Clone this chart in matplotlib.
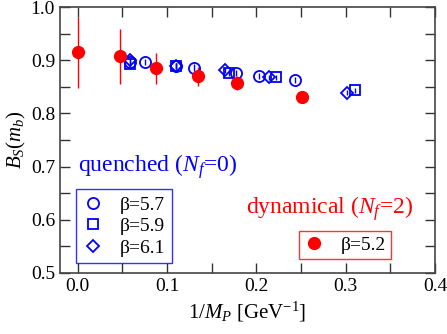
import matplotlib.pyplot as plt
from matplotlib.lines import Line2D
import numpy as np

plt.rcParams['font.family'] = ['Liberation Serif', 'DejaVu Serif']
plt.rcParams['mathtext.fontset'] = 'custom'
plt.rcParams['mathtext.rm'] = 'Liberation Serif'
plt.rcParams['mathtext.it'] = 'Liberation Serif:italic'

# dynamical, beta = 5.2
dyn_x = [0.0, 0.047, 0.0876, 0.1346, 0.1786, 0.251]
dyn_y = [0.915, 0.907, 0.885, 0.870, 0.857, 0.830]
dyn_err = [0.067, 0.051, 0.029, 0.018, 0.013, 0.005]

# quenched
q57_x = [0.059, 0.075, 0.110, 0.130, 0.1775, 0.2025, 0.2435]
q57_y = [0.897, 0.897, 0.889, 0.886, 0.876, 0.870, 0.863]
q57_err = [0.006, 0.006, 0.006, 0.006, 0.006, 0.006, 0.006]

q59_x = [0.059, 0.110, 0.169, 0.222, 0.311]
q59_y = [0.892, 0.889, 0.876, 0.868, 0.843]
q59_err = [0.005, 0.005, 0.005, 0.005, 0.005]

q61_x = [0.059, 0.110, 0.165, 0.214, 0.301]
q61_y = [0.900, 0.889, 0.881, 0.868, 0.839]
q61_err = [0.005, 0.005, 0.005, 0.005, 0.005]

fig = plt.figure(figsize=(4.47, 3.34), dpi=100)
ax = fig.add_axes([0.134, 0.183, 0.839, 0.796])

blue = '#0000ff'
red = '#ff0000'

kw = dict(linestyle='none', markerfacecolor='none', markeredgewidth=1.3,
          ecolor=blue, elinewidth=1.0, capsize=0, color=blue)
ax.errorbar(q57_x, q57_y, yerr=q57_err, marker='o', markersize=8, **kw)
ax.errorbar(q59_x, q59_y, yerr=q59_err, marker='s', markersize=7, **kw)
ax.errorbar(q61_x, q61_y, yerr=q61_err, marker='D', markersize=6.5, **kw)
ax.errorbar(dyn_x, dyn_y, yerr=dyn_err, marker='o', markersize=8.5,
            linestyle='none', color=red, ecolor=red, elinewidth=1.0,
            capsize=0)

h1 = Line2D([], [], linestyle='none', marker='o', markersize=8, color=blue,
            markerfacecolor='none', markeredgewidth=1.3)
h2 = Line2D([], [], linestyle='none', marker='s', markersize=7, color=blue,
            markerfacecolor='none', markeredgewidth=1.3)
h3 = Line2D([], [], linestyle='none', marker='D', markersize=6.5, color=blue,
            markerfacecolor='none', markeredgewidth=1.3)
h4 = Line2D([], [], linestyle='none', marker='o', markersize=8.5, color=red)

ax.set_xlim(-0.02, 0.4)
ax.set_ylim(0.5, 1.0)
xt = np.arange(0.0, 0.401, 0.05)
yt = np.arange(0.5, 1.001, 0.05)
ax.set_xticks(xt)
ax.set_xticklabels(['%.1f' % v if i % 2 == 0 else '' for i, v in enumerate(xt)])
ax.set_yticks(yt)
ax.set_yticklabels(['%.1f' % v if i % 2 == 0 else '' for i, v in enumerate(yt)])
ax.tick_params(direction='in', length=7, width=1.0, top=True, right=True,
               labelsize=14, colors='#333333', labelcolor='black')
for s in ax.spines.values():
    s.set_color('#444444')
    s.set_linewidth(1.2)

ax.set_xlabel(r'$1/M_P$ [GeV$^{-1}$]', fontsize=15)
ax.set_ylabel(r'$B_S(m_b)$', fontsize=15, labelpad=2)

ax.text(0.0, 0.70, r'quenched ($N_f$=0)', color=blue, fontsize=17,
        va='center', ha='left')
ax.text(0.4 - 0.025, 0.62, r'dynamical ($N_f$=2)', color=red, fontsize=17,
        va='center', ha='right')

leg1 = ax.legend([h1, h2, h3], ['β=5.7', 'β=5.9', 'β=6.1'],
                 loc='upper left', bbox_to_anchor=(0.043, 0.315),
                 fontsize=14, frameon=True, fancybox=False,
                 handlelength=1.0, handletextpad=0.9, borderpad=0.35,
                 labelspacing=0.2, borderaxespad=0)
leg1.get_frame().set_edgecolor(blue)
leg1.get_frame().set_linewidth(1.0)
ax.add_artist(leg1)

leg2 = ax.legend([h4], ['β=5.2'], loc='upper left',
                 bbox_to_anchor=(0.638, 0.156),
                 fontsize=14, frameon=True, fancybox=False,
                 handlelength=1.0, handletextpad=0.9, borderpad=0.25,
                 borderaxespad=0)
leg2.get_frame().set_edgecolor(red)
leg2.get_frame().set_linewidth(1.0)

fig.savefig('out.png', dpi=100)
